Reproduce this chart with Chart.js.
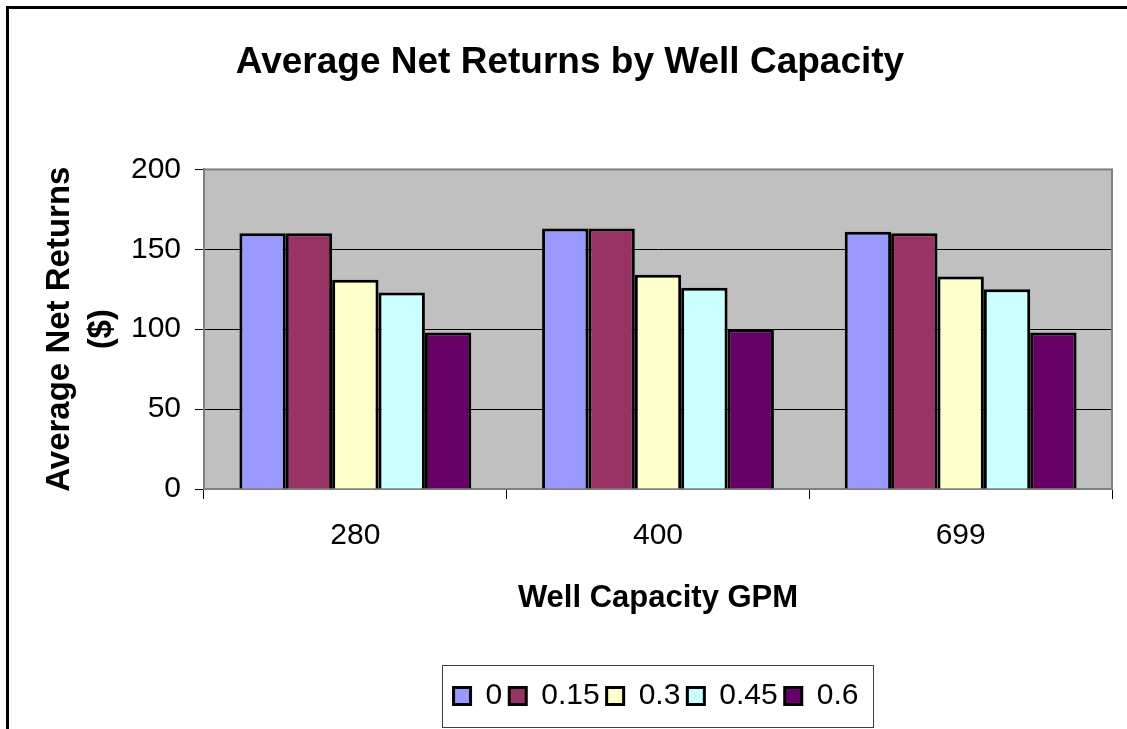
<!DOCTYPE html>
<html>
<head>
<meta charset="utf-8">
<script src="https://cdn.jsdelivr.net/npm/chart.js@4.4.1/dist/chart.umd.min.js"></script>
<style>
  html, body { margin: 0; padding: 0; background: #ffffff; }
  #wrap { width: 1127px; height: 729px; position: relative; }
</style>
</head>
<body>
<div id="wrap"><canvas id="c" width="1127" height="729"></canvas></div>
<script>
// ---- data ----
const categories = ['280', '400', '699'];
const seriesLabels = ['0', '0.15', '0.3', '0.45', '0.6'];
const series0 = [160, 163, 161];
const series015 = [160, 163, 160];
const series03 = [131, 134, 133];
const series045 = [123, 126, 125];
const series06 = [98, 100, 98];
const yTicks = [0, 50, 100, 150, 200];

const seriesValues = [series0, series015, series03, series045, series06];
const seriesColors = ['#9999FF', '#993366', '#FFFFCC', '#CCFFFF', '#660066'];

const FONT = "'Liberation Sans', Arial, Helvetica, sans-serif";

const framePlugin = {
  id: 'framePlugin',
  afterLayout(chart) {
    // shift legend and title horizontally like the original layout
    const lg = chart.legend;
    if (lg) { lg.left += 96; lg.right += 96; }
    const tb = chart.titleBlock;
    if (tb) { tb.left += 10; tb.right += 10; }
  },
  beforeDraw(chart) {
    const { ctx, chartArea: a } = chart;
    ctx.save();
    ctx.fillStyle = '#ffffff';
    ctx.fillRect(0, 0, chart.width, chart.height);
    ctx.fillStyle = '#C0C0C0';
    ctx.fillRect(a.left, a.top, a.right - a.left, a.bottom - a.top);
    // outer frame
    ctx.strokeStyle = '#000000';
    ctx.lineWidth = 3;
    ctx.beginPath();
    ctx.moveTo(7.5, chart.height + 5);
    ctx.lineTo(7.5, 7.5);
    ctx.lineTo(chart.width + 5, 7.5);
    ctx.stroke();
    ctx.restore();
  },
  beforeDatasetsDraw(chart) {
    const { ctx, chartArea: a } = chart;
    ctx.save();
    ctx.strokeStyle = '#808080';
    ctx.lineWidth = 2;
    ctx.strokeRect(a.left, a.top, a.right - a.left, a.bottom - a.top);
    ctx.restore();
  },
  afterDraw(chart) {
    const lg = chart.legend;
    if (!lg || !lg.legendHitBoxes || !lg.legendHitBoxes.length) return;
    const hb = lg.legendHitBoxes;
    const first = hb[0], last = hb[hb.length - 1];
    const cy = first.top + first.height / 2;
    const x0 = first.left - 12;
    const x1 = last.left + last.width + 14;
    const ctx = chart.ctx;
    ctx.save();
    ctx.strokeStyle = '#404040';
    ctx.lineWidth = 1;
    ctx.strokeRect(Math.round(x0) + 0.5, Math.round(cy - 31) + 0.5, Math.round(x1 - x0), 62);
    ctx.restore();
  }
};

new Chart(document.getElementById('c'), {
  type: 'bar',
  data: {
    labels: categories,
    datasets: seriesLabels.map((lab, i) => ({
      label: lab,
      data: seriesValues[i],
      backgroundColor: seriesColors[i],
      borderColor: '#000000',
      borderWidth: 3,
      categoryPercentage: 0.766,
      barPercentage: 1.0
    }))
  },
  options: {
    responsive: false,
    animation: false,
    devicePixelRatio: 1,
    layout: { padding: { left: 8, right: 15, top: 8, bottom: 8 } },
    plugins: {
      title: {
        display: true,
        text: 'Average Net Returns by Well Capacity',
        color: '#000000',
        font: { family: FONT, size: 37, weight: 'bold', lineHeight: 1.2 },
        padding: { top: 33, bottom: 84 }
      },
      legend: {
        display: true,
        position: 'bottom',
        labels: {
          color: '#000000',
          font: { family: FONT, size: 30 },
          boxWidth: 17,
          boxHeight: 17,
          padding: 7
        }
      },
      tooltip: { enabled: false }
    },
    scales: {
      x: {
        offset: true,
        grid: {
          offset: true,
          drawOnChartArea: false,
          drawTicks: true,
          tickLength: 10,
          tickColor: '#000000'
        },
        border: { display: true, color: '#808080', width: 2 },
        ticks: {
          color: '#000000',
          font: { family: FONT, size: 30 },
          padding: 19
        },
        title: {
          display: true,
          text: 'Well Capacity GPM',
          color: '#000000',
          font: { family: FONT, size: 31, weight: 'bold', lineHeight: 1.2 },
          padding: { top: 0, bottom: 57 }
        },
        afterFit(scale) { scale.height = 185; }
      },
      y: {
        min: 0,
        max: 200,
        afterBuildTicks(scale) { scale.ticks = yTicks.map(v => ({ value: v })); },
        grid: {
          color: ctx => (ctx.tick && (ctx.tick.value === 0 || ctx.tick.value === 200)) ? '#808080' : '#000000',
          lineWidth: 1,
          drawTicks: true,
          tickLength: 9,
          tickColor: '#000000'
        },
        border: { display: true, color: '#808080', width: 2 },
        ticks: {
          color: '#000000',
          font: { family: FONT, size: 30 },
          padding: 14
        },
        title: {
          display: true,
          text: ['Average Net Returns', '($)'],
          color: '#000000',
          font: { family: FONT, size: 33, weight: 'bold', lineHeight: 1.3 },
          padding: { top: 30, bottom: 0 }
        },
        afterFit(scale) { scale.width = 196; }
      }
    }
  },
  plugins: [framePlugin]
});
</script>
</body>
</html>
